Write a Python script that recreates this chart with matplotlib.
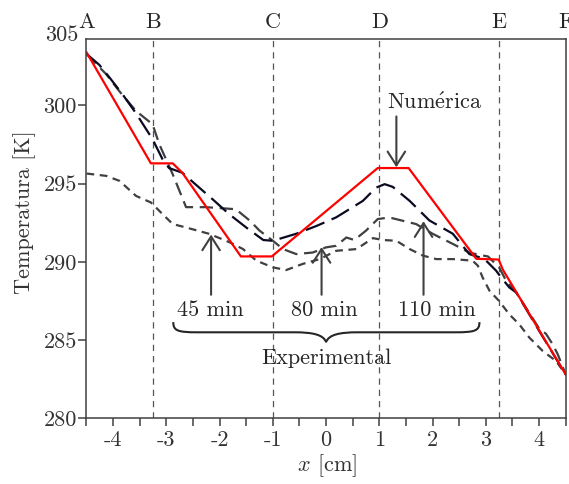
import matplotlib
matplotlib.use('Agg')
import matplotlib.pyplot as plt
import matplotlib.transforms as mtransforms
from matplotlib.path import Path
from matplotlib.patches import PathPatch

plt.rcParams['font.family'] = 'serif'
plt.rcParams['font.serif'] = ['cmr10']
plt.rcParams['mathtext.fontset'] = 'cm'
plt.rcParams['axes.formatter.use_mathtext'] = True
FS = 16

# numerical solution
num_x = [-4.5, -3.29, -2.88, -2.70, -1.60, -1.02, 0.97, 1.55, 2.82, 3.24, 3.32, 4.5]
num_T = [303.4, 296.3, 296.3, 295.7, 290.35, 290.35, 296.0, 296.0, 290.2, 290.15, 289.5, 282.8]

# experimental, long dashes
long_x = [-4.5, -4.26, -4.07, -3.82, -3.57, -3.26, -3.07, -2.95, -2.70, -2.45, -2.13, -1.82,
          -1.5, -1.18, -1.0, -0.56, -0.18, 0.19, 0.69, 0.94, 1.1, 1.25, 1.57, 1.94, 2.38,
          2.69, 2.97, 3.19, 3.29, 3.44, 3.57, 4.0, 4.5]
long_T = [303.3, 302.6, 301.8, 300.7, 299.5, 297.85, 296.55, 296.0, 295.7, 294.95, 294.0, 293.05,
          292.2, 291.4, 291.35, 291.8, 292.3, 292.85, 293.9, 294.75, 294.97, 294.8, 293.9, 292.65, 291.8,
          290.5, 290.2, 289.45, 289.0, 288.37, 288.05, 285.6, 282.8]

# experimental, medium dashes
mid_x = [-4.5, -4.13, -3.88, -3.57, -3.26, -3.13, -2.88, -2.63, -2.26, -1.7, -1.62, -1.43, -1.25,
         -1.0, -0.81, -0.56, -0.25, 0.0, 0.19, 0.38, 0.53, 0.75, 0.97, 1.19, 1.44, 1.69, 2.0, 2.38,
         2.69, 2.88, 3.04, 3.25, 3.38, 3.57, 4.0, 4.13, 4.25, 4.35, 4.5]
mid_T = [303.3, 302.0, 300.9, 299.65, 298.8, 297.5, 295.6, 293.5, 293.5, 293.37, 293.16, 292.63, 292.0,
         291.35, 290.82, 290.5, 290.6, 290.93, 291.03, 291.56, 291.4, 292.0, 292.74, 292.84, 292.63, 292.42,
         291.8, 291.15, 290.6, 290.45, 290.35, 289.65, 288.8, 288.05, 285.75, 285.4, 284.76, 284.1, 282.8]

# experimental, short dashes
short_x = [-4.5, -4.13, -3.88, -3.57, -3.29, -3.07, -2.88, -2.63, -2.2, -1.81, -1.56, -1.31, -1.0,
           -0.75, -0.44, -0.12, 0.19, 0.57, 0.88, 1.07, 1.32, 1.57, 1.82, 2.07, 2.38, 2.75, 2.85,
           2.94, 3.07, 3.25, 3.44, 3.63, 3.82, 4.07, 4.32, 4.5]
short_T = [295.65, 295.5, 295.18, 294.22, 293.8, 293.05, 292.42, 292.2, 291.8, 291.25, 290.82, 290.08,
           289.65, 289.48, 289.87, 290.18, 290.71, 290.82, 291.52, 291.4, 291.35, 290.82, 290.4, 290.18,
           290.18, 290.08, 289.76, 289.0, 288.15, 287.5, 286.65, 286.0, 285.15, 284.3, 283.66, 282.8]

sections = ['A', 'B', 'C', 'D', 'E', 'F']
section_x = [-4.5, -3.25, -1.0, 1.0, 3.25, 4.5]

times = ['45 min', '80 min', '110 min']
time_text_x = [-2.18, -0.03, 2.08]
arrow_x = [-2.16, -0.085, 1.83]
arrow_tip = [291.75, 290.95, 292.6]

y_ticks = [280, 285, 290, 295, 300]
y_labels = ['280', '285', '290', '295', '300']
y_top_label = '305'

grey = '#404040'
ink = '#262626'

fig = plt.figure(figsize=(5.69, 4.84), dpi=100)
ax = fig.add_axes([0.152, 0.1357, 0.8422, 0.7837])

for xs in section_x[1:-1]:
    ax.axvline(xs, color='#555555', lw=0.9, dashes=(5, 4))

ax.plot(short_x, short_T, color=grey, lw=1.6, dashes=(3.5, 2.5))
ax.plot(mid_x, mid_T, color=grey, lw=1.6, dashes=(6, 3))
ax.plot(long_x, long_T, color='#0a0a22', lw=1.6, dashes=(9, 3.5))
ax.plot(num_x, num_T, color='red', lw=1.6)

ax.set_xlim(-4.5, 4.5)
ax.set_ylim(280, 304.25)
xt = [-4.5 + 0.5 * i for i in range(19)]
ax.set_xticks(xt)
ax.set_xticklabels([('%d' % v) if float(v).is_integer() else '' for v in xt])
ax.set_yticks(y_ticks)
ax.set_yticklabels(y_labels)
ax.tick_params(direction='out', length=6, width=1.1, color=grey, labelcolor='#333333',
               labelsize=FS)
ax.tick_params(axis='x', pad=3)
ax.tick_params(axis='y', pad=1)
for s in ax.spines.values():
    s.set_color(grey)
    s.set_linewidth(1.1)

# the 305 label sits at the top corner of the frame
ax.text(-0.017, 1.009, y_top_label, transform=ax.transAxes, ha='right', va='center',
        fontsize=FS, color='#333333')

trans = mtransforms.blended_transform_factory(ax.transData, ax.transAxes)
for name, xs in zip(sections, section_x):
    ax.text(xs, 1.029, name, transform=trans, ha='center', va='baseline', fontsize=FS,
            color=ink, clip_on=False)

arrow_style = dict(arrowstyle='->,head_length=0.55,head_width=0.35', lw=1.5, color=grey,
                   mutation_scale=18, shrinkA=0, shrinkB=0)
for lab, tx, axx, tip in zip(times, time_text_x, arrow_x, arrow_tip):
    ax.text(tx, 286.9, lab, ha='center', va='center', fontsize=FS, color=ink)
    ax.annotate('', xy=(axx, tip), xytext=(axx, 287.9), arrowprops=arrow_style)

ax.text(2.04, 300.17, r'Num$\mathrm{\acute{e}}$rica', ha='center', va='center', fontsize=FS,
        color=ink)
ax.annotate('', xy=(1.32, 296.05), xytext=(1.32, 299.3), arrowprops=arrow_style)

# brace under the time labels
x0, x1, xm = -2.87, 2.88, 0.0
ye, yh, yt = 286.15, 285.5, 284.87
verts = [(x0, ye), (x0, yh + 0.1), (x0 + 0.08, yh), (x0 + 0.45, yh),
         (xm - 0.6, yh),
         (xm - 0.25, yh), (xm - 0.05, yh - 0.15), (xm, yt),
         (xm + 0.05, yh - 0.15), (xm + 0.25, yh), (xm + 0.6, yh),
         (x1 - 0.45, yh),
         (x1 - 0.08, yh), (x1, yh + 0.1), (x1, ye)]
codes = [Path.MOVETO, Path.CURVE4, Path.CURVE4, Path.CURVE4,
         Path.LINETO,
         Path.CURVE4, Path.CURVE4, Path.CURVE4,
         Path.CURVE4, Path.CURVE4, Path.CURVE4,
         Path.LINETO,
         Path.CURVE4, Path.CURVE4, Path.CURVE4]
ax.add_patch(PathPatch(Path(verts, codes), fill=False, lw=1.5, color=ink))
ax.text(0.0, 283.83, 'Experimental', ha='center', va='center', fontsize=FS, color=ink)

fig.text(25 / 569, 1 - 212 / 484, 'Temperatura [K]', rotation=90, ha='center', va='center',
         fontsize=FS, color='#333333')
fig.text(327 / 569, 1 - 466 / 484, r'$x$ [cm]', ha='center', va='center', fontsize=FS,
         color='#333333')

fig.savefig('out.png', dpi=100)
